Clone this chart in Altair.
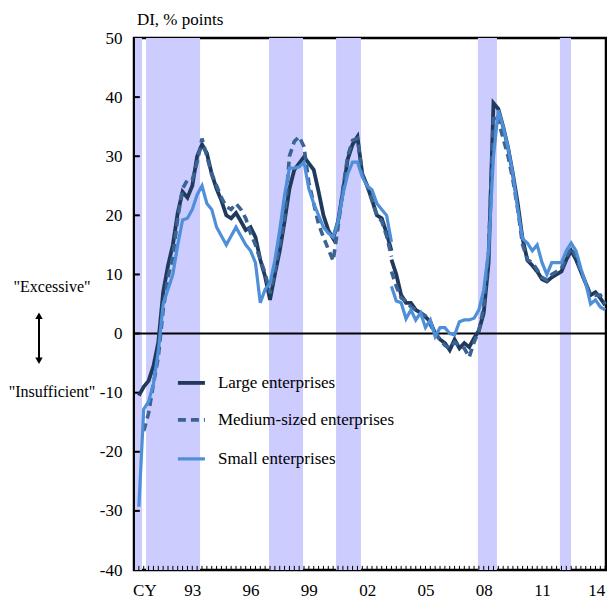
import altair as alt
import pandas as pd

# ---------------- data (quarterly, starting 1990 Q1) ----------------
start_year = 1990.0
break_index = 53  # series revision: old basis ends / new basis starts here

large_old = [None, -10.5, -9, -8, -5.5, -1.5, 7, 11.5, 15, 20.4,
             24, 23, 25, 30, 32, 30.5, 27, 24.5, 22.5, 20,
             19.5, 20.4, 19, 17.5, 18, 16.3, 12.5, 9.6, 5.7, 10,
             14, 19, 24.5, 27.7, 28.8, 29.9, 28.8, 27.7, 24, 20,
             17.5, 16.1, 19, 24, 29.5, 32, 33.3, 27, 25, 22.6,
             20, 19.5, 17, 14]
large_new = [12.5, 10, 6.5, 5.2, 5.2, 4, 3.5, 2.8, 2, 0,
             -1, -1.6, -2.8, -1, -2.5, -1.6, -2.3, -0.8, 0.5, 3.5,
             12, 39, 38, 35, 31.5, 27, 22, 16, 12.4, 11.5,
             10.5, 9.2, 8.8, 9.5, 10, 10.5, 12.5, 14, 12.5, 10.5,
             8.5, 6.5, 7, 6, 4.8]

medium_old = [None, None, -16.5, -13.5, -8.5, -4, 4, 9.5, 13, 19.5,
              24.5, 26, 26, 29, 33, 30, 27, 25, 23, 21.5,
              21, 22, 21, 19.5, 17, 15, 12.5, 10.2, 6.8, 10.5,
              15, 19.5, 30, 32.5, 33.3, 31.6, 25.5, 22, 18.5, 16.3,
              14.3, 12.3, 18, 24.5, 30, 32.7, 33, 27, 25, 22.5,
              20, 19, 16.5, 13]
medium_new = [10.5, 8, 6, 5.5, 4.5, 4, 3.5, 3, 1.5, 0,
              -1, -2, -2.5, -1.5, -2, -2.5, -4, -1.5, 0.5, 4.5,
              14, 37, 36, 33, 30, 26, 21, 15, 12.5, 12,
              10.8, 9.5, 9, 10, 10.5, 11, 13, 14.5, 13, 10.5,
              8.5, 6.5, 6.5, 6.5, 5]

small_old = [None, -29.3, -12.8, -11.5, -8.5, -3, 5, 7.5, 10, 15,
             19.2, 19.5, 21, 23.5, 25, 22, 21, 18, 16.5, 15,
             16.5, 18, 16.5, 15, 14, 12, 5.2, 7.5, 8.5, 12.4,
             17.5, 23.5, 28, 28, 28.2, 29, 24.5, 22, 20, 18,
             17, 16.3, 19, 23.5, 27, 29, 29, 26.5, 25, 24.3,
             22, 21, 20, 15.5]
small_new = [8, 5.5, 5.2, 2.5, 4, 2.3, 3.5, 1, 2.3, -0.5,
             1, 1, 0, -0.2, 2, 2.3, 2.3, 2.6, 4, 7.4,
             14, 30, 37.8, 35, 31.5, 27, 21, 16, 15.3, 14,
             15, 12, 10, 12, 12, 12, 14, 15.3, 14, 11,
             8.5, 5, 5.7, 4.5, 4]

series_names = ["Large enterprises", "Medium-sized  enterprises", "Small enterprises"]
series_colors = ["#1F3A5C", "#3A6394", "#4F8ED8"]

# shaded periods (calendar years, fractional)
band_start = [1990.05, 1990.62, 1996.95, 2000.40, 2007.70, 2011.92]
band_end = [1990.41, 1993.40, 1998.70, 2001.68, 2008.68, 2012.49]

y_ticks = [-40, -30, -20, -10, 0, 10, 20, 30, 40, 50]
x_label_years = [1993, 1996, 1999, 2002, 2005, 2008, 2011, 2014]

# ---------------- build tables ----------------
def build(name, old, new):
    rows = []
    for i, v in enumerate(old):
        if v is not None:
            rows.append({"t": start_year + i / 4, "v": v, "series": name, "seg": "old"})
    for j, v in enumerate(new):
        rows.append({"t": start_year + (break_index + j) / 4, "v": v, "series": name, "seg": "new"})
    return pd.DataFrame(rows)

dfs = [build(series_names[0], large_old, large_new),
       build(series_names[1], medium_old, medium_new),
       build(series_names[2], small_old, small_new)]

n_quarters = break_index + len(large_new)
quarters = pd.DataFrame({"t": [start_year + i / 4 for i in range(n_quarters)]})
quarters["lo"] = -40
quarters["hi"] = -39.3

bands = pd.DataFrame({"start": band_start, "end": band_end})

ytick_df = pd.DataFrame({"v": y_ticks[1:-1]})
ytick_df["x0"] = 1990.0
ytick_df["x1"] = 1990.3

FONT = "Liberation Serif, Times New Roman, Tinos, DejaVu Serif, serif"
FS = 17

xscale = alt.Scale(domain=[1990, 2014.292], nice=False, zero=False)
yscale = alt.Scale(domain=[-40, 50], nice=False, zero=False)

xaxis = alt.Axis(values=x_label_years, labelExpr="substring(toString(datum.value), 2, 4)",
                 title=None, grid=False, ticks=False, tickSize=0, domain=False,
                 labelFont=FONT, labelFontSize=FS, labelColor="black",
                 labelPadding=12, labelFlush=False, labelOverlap=False,
                 labelOffset={"expr": "datum.value == 2014 ? -4 : 0"})
yaxis = alt.Axis(values=y_ticks, labelExpr="toString(datum.value)", title=None,
                 grid=False, ticks=False, tickSize=0,
                 domain=False, labelFont=FONT, labelFontSize=FS, labelColor="black",
                 labelPadding=12, labelFlush=False, labelOverlap=False)

def X(field):
    return alt.X(field, type="quantitative", scale=xscale, axis=xaxis)

def Y(field):
    return alt.Y(field, type="quantitative", scale=yscale, axis=yaxis)

band_layer = alt.Chart(bands).mark_rect(color="#CCCCFF").encode(
    x=X("start"), x2="end")

zero_layer = alt.Chart(pd.DataFrame({"v": [0]})).mark_rule(
    color="black", strokeWidth=2).encode(y=Y("v"))

qtick_layer = alt.Chart(quarters).mark_rule(color="black", strokeWidth=1).encode(
    x=X("t"), y=Y("lo"), y2="hi")

ytick_layer = alt.Chart(ytick_df).mark_rule(color="black", strokeWidth=2).encode(
    x=X("x0"), x2="x1", y=Y("v"))

line_layers = []
styles = [dict(strokeWidth=3.8), dict(strokeWidth=3.6, strokeDash=[8, 5]), dict(strokeWidth=3.2)]
for df, col, st in zip(dfs, series_colors, styles):
    line_layers.append(alt.Chart(df).mark_line(color=col, **st).encode(
        x=X("t"), y=Y("v"), detail="seg:N"))

# legend drawn inside the plot
leg_y = [-8.35, -14.6, -21.2]
leg_layers = []
for name, col, st, yy in zip(series_names, series_colors, styles, leg_y):
    d = pd.DataFrame({"x0": [1992.26], "x1": [1993.65], "v": [yy], "tx": [1994.32], "label": [name]})
    leg_layers.append(alt.Chart(d).mark_rule(color=col, **st).encode(
        x=X("x0"), x2="x1", y=Y("v")))
    leg_layers.append(alt.Chart(d).mark_text(font=FONT, fontSize=FS, align="left",
                                             baseline="middle", color="black").encode(
        x=X("tx"), y=Y("v"), text="label:N"))

# annotations
title_note = pd.DataFrame({"x": [1990.15], "v": [53.05], "label": ["DI, % points"]})
side_notes = pd.DataFrame({"x": [1985.78, 1985.78], "v": [7.9, -9.9],
                           "label": ["\"Excessive\"", "\"Insufficient\""]})
cy_note = pd.DataFrame({"x": [1990.56], "v": [-43.5], "label": ["CY"]})

note_left = alt.Chart(title_note).mark_text(
    font=FONT, fontSize=FS, align="left", baseline="middle", color="black").encode(
    x=X("x"), y=Y("v"), text="label:N")
note_side = alt.Chart(side_notes).mark_text(
    font=FONT, fontSize=16, align="center", baseline="middle", color="black").encode(
    x=X("x"), y=Y("v"), text="label:N")
note_cy = alt.Chart(cy_note).mark_text(
    font=FONT, fontSize=FS, align="center", baseline="middle", color="black").encode(
    x=X("x"), y=Y("v"), text="label:N")

arrow = pd.DataFrame({"x": [1985.11], "top": [3.0], "bot": [-4.6]})
arrow_rule = alt.Chart(arrow).mark_rule(color="black", strokeWidth=2).encode(
    x=X("x"), y=Y("top"), y2="bot")
arrow_up = alt.Chart(arrow).mark_point(shape="triangle-up", filled=True, color="black",
                                       size=55, opacity=1).encode(x=X("x"), y=Y("top"))
arrow_down = alt.Chart(arrow).mark_point(shape="triangle-down", filled=True, color="black",
                                         size=55, opacity=1).encode(x=X("x"), y=Y("bot"))

chart = alt.layer(
    band_layer, zero_layer, qtick_layer, ytick_layer, *line_layers, *leg_layers,
    note_left, note_side, note_cy, arrow_rule, arrow_up, arrow_down
).properties(
    width=472, height=532,
    autosize=alt.AutoSizeParams(type="none"),
    padding={"left": 126, "top": 30, "right": 1, "bottom": 30},
    background="white",
).configure_view(stroke="black", strokeWidth=2.5)

chart.save("out.html", embed_options={"renderer": "svg", "actions": False})
